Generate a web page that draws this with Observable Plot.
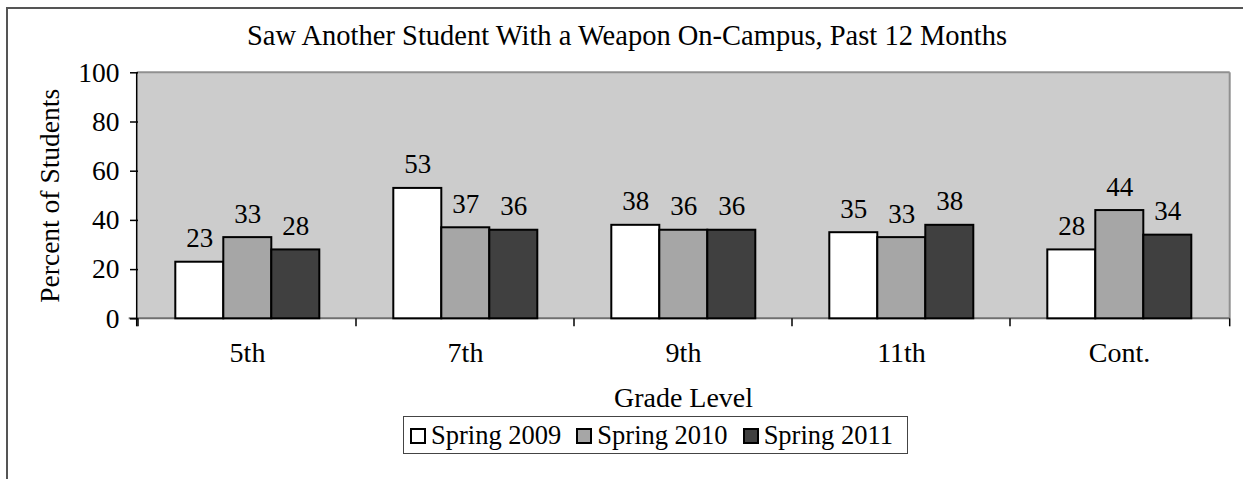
<!DOCTYPE html>
<html><head><meta charset="utf-8">
<script src="https://cdn.jsdelivr.net/npm/d3@7"></script>
<script src="https://cdn.jsdelivr.net/npm/@observablehq/plot@0.6"></script>
<style>
body{margin:0;background:#fff;}
#wrap{position:relative;width:1243px;height:479px;overflow:hidden;font-family:"Liberation Serif",serif;color:#000;}
#border{position:absolute;left:6px;top:7px;width:1300px;height:600px;border-top:2px solid #555;border-left:2px solid #555;}
#title{position:absolute;left:0;width:1254px;top:22px;text-align:center;font-size:28.5px;line-height:28.5px;white-space:nowrap;}
#legend{position:absolute;left:403px;top:416px;height:36px;line-height:36px;border:1px solid #444;font-size:26.5px;padding:0 14px 0 6px;white-space:nowrap;background:#fff;}
#legend .sw{display:inline-block;width:12px;height:12px;border:2px solid #000;margin-right:5px;}
#legend .item{margin-right:15px;}
#legend .item:last-child{margin-right:0;}
svg{position:absolute;left:0;top:0;}
</style></head><body><div id="wrap"><div id="border"></div></div>
<script>
const grades = ["5th","7th","9th","11th","Cont."];
const seriesNames = ["Spring 2009","Spring 2010","Spring 2011"];
const spring2009 = [23,53,38,35,28];
const spring2010 = [33,37,36,33,44];
const spring2011 = [28,36,36,38,34];
const seriesColors = ["#ffffff","#a6a6a6","#404040"];
const yTicks = [0,20,40,60,80,100];
const titleText = "Saw Another Student With a Weapon On-Campus, Past 12 Months";
const xLabel = "Grade Level";
const yLabel = "Percent of Students";

const values = [spring2009, spring2010, spring2011];
const data = [];
grades.forEach((g,i)=> seriesNames.forEach((s,j)=> data.push({grade:g, series:s, value: values[j][i]})));

const plot = Plot.plot({
  width:1243, height:479,
  marginLeft:136.7, marginRight:13.3, marginTop:72.3, marginBottom:160.7,
  style:{fontFamily:'"Liberation Serif", serif', fontSize:"27px", background:"transparent", color:"#000"},
  fx:{domain:grades, padding:0},
  x:{domain:seriesNames, paddingInner:0, paddingOuter:0.75, axis:null},
  y:{domain:[0,100]},
  color:{domain:seriesNames, range:seriesColors},
  marks:[
    Plot.axisY({ticks:yTicks, tickSize:8, tickPadding:11, stroke:"#000", strokeWidth:1.5, strokeOpacity:1, fill:"#000", fontSize:27.5, label:yLabel, labelAnchor:"center", labelArrow:"none", labelOffset:99}),
    Plot.axisFx({anchor:"bottom", tickSize:0, tickPadding:23.8, fill:"#000", fontSize:28, label:xLabel, labelAnchor:"center", labelArrow:"none", labelOffset:87.7}),
    Plot.barY(data,{fx:"grade", x:"series", y:"value", fill:"series", stroke:"#000", strokeWidth:2}),
    Plot.text(data,{fx:"grade", x:"series", y:"value", text:"value", dy:-23.6, fontSize:27, fill:"#000"})
  ]
});

const wrap = document.getElementById("wrap");
wrap.appendChild(plot);

const svg = d3.select(plot);
const fx = plot.scale("fx");
const ys = plot.scale("y");
const [x0, x1] = fx.range;
const [yb, yt] = ys.range;
const firstG = svg.select("g").node();
svg.insert("rect", () => firstG).attr("x", x0).attr("y", yt).attr("width", x1 - x0).attr("height", yb - yt).attr("fill", "#cccccc");
const lines = svg.insert("g", () => firstG);
lines.append("line").attr("x1", x0).attr("x2", x1).attr("y1", yt).attr("y2", yt).attr("stroke", "#909090").attr("stroke-width", 2);
lines.append("line").attr("x1", x1).attr("x2", x1).attr("y1", yt).attr("y2", yb).attr("stroke", "#909090").attr("stroke-width", 2);
lines.append("line").attr("x1", x0 - 8).attr("x2", x1).attr("y1", yb).attr("y2", yb).attr("stroke", "#707070").attr("stroke-width", 2);
lines.append("line").attr("x1", x0).attr("x2", x0).attr("y1", yt).attr("y2", yb + 8).attr("stroke", "#000").attr("stroke-width", 1.5);
const bounds = grades.map(g => fx.apply(g)).concat([x1]);
bounds.forEach(b => lines.append("line").attr("x1", b).attr("x2", b).attr("y1", yb).attr("y2", yb + 8).attr("stroke", "#000").attr("stroke-width", 1.5));

const title = document.createElement("div");
title.id = "title"; title.textContent = titleText;
wrap.appendChild(title);

const legend = document.createElement("div");
legend.id = "legend";
seriesNames.forEach((s, j) => {
  const item = document.createElement("span"); item.className = "item";
  const sw = document.createElement("span"); sw.className = "sw"; sw.style.background = seriesColors[j];
  item.appendChild(sw); item.appendChild(document.createTextNode(s));
  legend.appendChild(item);
});
wrap.appendChild(legend);
</script></body></html>
